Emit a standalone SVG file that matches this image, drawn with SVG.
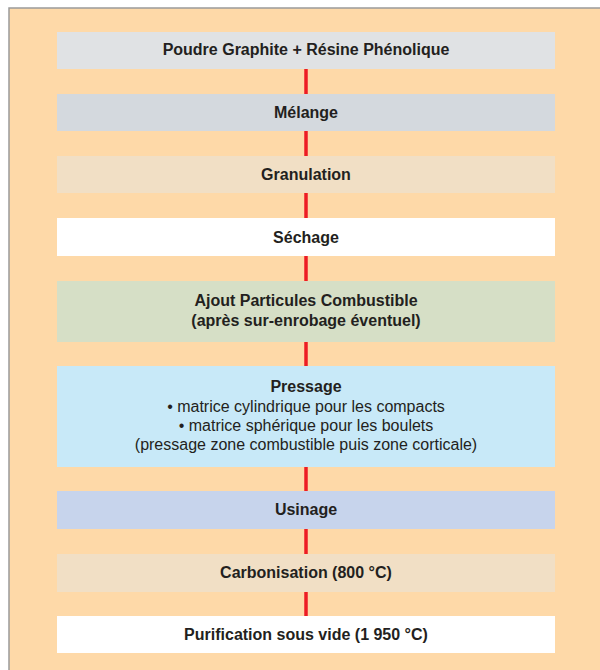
<svg xmlns="http://www.w3.org/2000/svg" width="600" height="670" viewBox="0 0 600 670">
<style>
.t{font-family:"Liberation Sans",Arial,sans-serif;font-size:16px;fill:#231f20;text-anchor:middle}
.b{font-weight:bold}
.c{stroke:#ed1c24;stroke-width:3.5;fill:none}
</style>
<rect x="0" y="0" width="600" height="670" fill="#ffffff"/>
<rect x="9" y="8" width="594" height="664" fill="#fed9a8" stroke="#9a9a9a" stroke-width="1.5"/>
<g id="connectors">
<line class="c" x1="306" y1="69" x2="306" y2="94"/>
<line class="c" x1="306" y1="131" x2="306" y2="156"/>
<line class="c" x1="306" y1="193" x2="306" y2="218"/>
<line class="c" x1="306" y1="256" x2="306" y2="281"/>
<line class="c" x1="306" y1="342" x2="306" y2="366"/>
<line class="c" x1="306" y1="467" x2="306" y2="491"/>
<line class="c" x1="306" y1="529" x2="306" y2="554"/>
<line class="c" x1="306" y1="592" x2="306" y2="616"/>
</g>
<g id="n1"><rect x="57" y="32" width="498" height="37" fill="#e0e2e4"/><text class="t b" x="306" y="55">Poudre Graphite + Résine Phénolique</text></g>
<g id="n2"><rect x="57" y="94" width="498" height="37" fill="#d4d9de"/><text class="t b" x="306" y="118">Mélange</text></g>
<g id="n3"><rect x="57" y="156" width="498" height="37" fill="#f1dfc5"/><text class="t b" x="306" y="180">Granulation</text></g>
<g id="n4"><rect x="57" y="218" width="498" height="38" fill="#ffffff"/><text class="t b" x="306" y="243">Séchage</text></g>
<g id="n5"><rect x="57" y="281" width="498" height="61" fill="#d6dfc6"/><text class="t b" x="306" y="306">Ajout Particules Combustible</text><text class="t b" x="306" y="326">(après sur-enrobage éventuel)</text></g>
<g id="n6"><rect x="57" y="366" width="498" height="101" fill="#c8e9f8"/><text class="t b" x="306" y="392">Pressage</text><text class="t" x="306" y="412">• matrice cylindrique pour les compacts</text><text class="t" x="306" y="431">• matrice sphérique pour les boulets</text><text class="t" x="306" y="450">(pressage zone combustible puis zone corticale)</text></g>
<g id="n7"><rect x="57" y="491" width="498" height="38" fill="#c7d4ec"/><text class="t b" x="306" y="515">Usinage</text></g>
<g id="n8"><rect x="57" y="554" width="498" height="38" fill="#f1dfc5"/><text class="t b" x="306" y="578">Carbonisation (800 °C)</text></g>
<g id="n9"><rect x="57" y="616" width="498" height="37" fill="#ffffff"/><text class="t b" x="306" y="640">Purification sous vide (1 950 °C)</text></g>
</svg>
